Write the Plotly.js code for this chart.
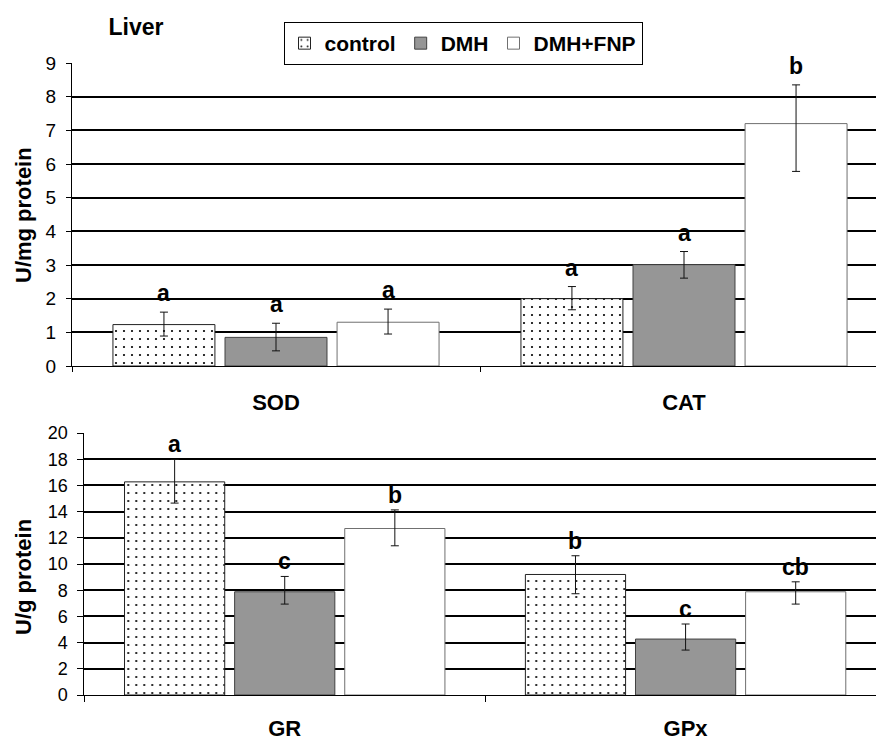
<!DOCTYPE html>
<html>
<head>
<meta charset="utf-8">
<script src="https://cdn.plot.ly/plotly-3.0.1.min.js"></script>
<style>html,body{margin:0;padding:0;background:#fff;}#chart{width:876px;height:740px;}</style>
</head>
<body>
<div id="chart"></div>
<script>
// ---- data ----
const groups = ['control', 'DMH', 'DMH+FNP'];
const categoriesTop = ['SOD', 'CAT'];
const categoriesBottom = ['GR', 'GPx'];

const topControl = [1.23, 2.00];
const topControlErrPlus = [0.37, 0.36];
const topControlErrMinus = [0.34, 0.33];
const topDMH = [0.85, 3.01];
const topDMHErrPlus = [0.42, 0.39];
const topDMHErrMinus = [0.40, 0.40];
const topFNP = [1.30, 7.20];
const topFNPErrPlus = [0.39, 1.15];
const topFNPErrMinus = [0.35, 1.42];

const bottomControl = [16.27, 9.20];
const bottomControlErrPlus = [1.71, 1.43];
const bottomControlErrMinus = [1.62, 1.47];
const bottomDMH = [7.88, 4.27];
const bottomDMHErrPlus = [1.17, 1.15];
const bottomDMHErrMinus = [0.94, 0.84];
const bottomFNP = [12.71, 7.88];
const bottomFNPErrPlus = [1.42, 0.76];
const bottomFNPErrMinus = [1.32, 0.94];

const lettersTopControl = ['a', 'a'];
const lettersTopDMH = ['a', 'a'];
const lettersTopFNP = ['a', 'b'];
const lettersBottomControl = ['a', 'b'];
const lettersBottomDMH = ['c', 'c'];
const lettersBottomFNP = ['b', 'cb'];

const yTitleTop = 'U/mg protein';
const yTitleBottom = 'U/g protein';
const chartTitle = 'Liver';

// ---- styles ----
const FONT = 'Liberation Sans, Arial, sans-serif';
const styles = [
  {color: 'white', pattern: {shape: '.', fgcolor: 'black', bgcolor: 'white', size: 8, solidity: 0.06}, line: {color: '#222', width: 1}},
  {color: '#969696', line: {color: '#404040', width: 1}},
  {color: 'white', line: {color: '#707070', width: 1}}
];
const bargap = 0.176;

function errObj(p, m) {
  return {type: 'data', symmetric: false, array: p, arrayminus: m, color: '#111', thickness: 1, width: 4};
}

const topSeries = [
  [topControl, topControlErrPlus, topControlErrMinus, lettersTopControl],
  [topDMH, topDMHErrPlus, topDMHErrMinus, lettersTopDMH],
  [topFNP, topFNPErrPlus, topFNPErrMinus, lettersTopFNP]
];
const bottomSeries = [
  [bottomControl, bottomControlErrPlus, bottomControlErrMinus, lettersBottomControl],
  [bottomDMH, bottomDMHErrPlus, bottomDMHErrMinus, lettersBottomDMH],
  [bottomFNP, bottomFNPErrPlus, bottomFNPErrMinus, lettersBottomFNP]
];

const traces = [];
const annotations = [];
const slot = (1 - bargap) / 3;

function addPanel(series, cats, xa, ya, showLegend, yshift) {
  series.forEach((s, si) => {
    traces.push({
      type: 'bar', name: groups[si], x: cats, y: s[0],
      xaxis: xa, yaxis: ya,
      marker: styles[si],
      error_y: errObj(s[1], s[2]),
      legendgroup: groups[si], showlegend: showLegend,
      hoverinfo: 'x+y+name'
    });
    s[3].forEach((lab, ci) => {
      annotations.push({
        xref: xa, yref: ya, x: ci + (si - 1) * slot, y: s[0][ci] + s[1][ci],
        text: lab, showarrow: false, yanchor: 'middle', yshift: yshift,
        font: {family: FONT, size: 23, color: 'black', weight: 'bold'}
      });
    });
  });
}
addPanel(topSeries, categoriesTop, 'x', 'y', true, 19);
addPanel(bottomSeries, categoriesBottom, 'x2', 'y2', false, 15);

annotations.push({
  xref: 'paper', yref: 'paper', x: 23 / 876, y: 1 - 215 / 740, text: yTitleTop,
  textangle: -90, showarrow: false, xanchor: 'center', yanchor: 'middle',
  font: {family: FONT, size: 22, color: 'black', weight: 'bold'}
});
annotations.push({
  xref: 'paper', yref: 'paper', x: 23 / 876, y: 1 - 577 / 740, text: yTitleBottom,
  textangle: -90, showarrow: false, xanchor: 'center', yanchor: 'middle',
  font: {family: FONT, size: 22, color: 'black', weight: 'bold'}
});

const xAxisBase = {
  type: 'category', tickson: 'boundaries', ticks: 'outside', ticklen: 5, tickcolor: 'black',
  showline: true, linecolor: 'black', linewidth: 1, showgrid: false, zeroline: false,
  tickfont: {family: FONT, size: 22, color: 'black', weight: 'bold'},
  ticklabelstandoff: 17, automargin: false, fixedrange: true
};
const yAxisBase = {
  ticks: 'outside', ticklen: 5, tickcolor: 'black', showline: true, linecolor: 'black', linewidth: 1,
  showgrid: true, gridcolor: 'black', gridwidth: 2, zeroline: false,
  tickfont: {family: FONT, size: 19, color: 'black'}, ticklabelstandoff: 6, automargin: false, fixedrange: true
};

const layout = {
  width: 876, height: 740,
  margin: {l: 0, r: 0, t: 0, b: 0},
  paper_bgcolor: 'white', plot_bgcolor: 'white',
  barmode: 'group', bargap: bargap, bargroupgap: 0.09,
  title: {text: chartTitle, x: 136 / 876, y: 1 - 27 / 740, xanchor: 'center', yanchor: 'middle',
          font: {family: FONT, size: 23, color: 'black', weight: 'bold'}},
  xaxis: Object.assign({}, xAxisBase, {domain: [72 / 876, 1], range: [-0.5, 1.4706], anchor: 'y'}),
  yaxis: Object.assign({}, yAxisBase, {domain: [1 - 366 / 740, 1 - 63 / 740], range: [0, 9], dtick: 1, anchor: 'x'}),
  xaxis2: Object.assign({}, xAxisBase, {domain: [84.3 / 876, 1], range: [-0.5, 1.475], anchor: 'y2', ticklabelstandoff: 14, ticklen: 6}),
  yaxis2: Object.assign({}, yAxisBase, {domain: [1 - 695 / 740, 1 - 433 / 740], range: [0, 20], dtick: 2, anchor: 'x2', ticklen: 6,
                                        tickfont: {family: FONT, size: 18, color: 'black'}}),
  legend: {
    orientation: 'h', x: 463 / 876, y: 1 - 22 / 740, xanchor: 'center', yanchor: 'top',
    bordercolor: 'black', borderwidth: 1, bgcolor: 'white',
    font: {family: FONT, size: 21, color: 'black', weight: 'bold'},
    itemwidth: 30, tracegroupgap: 0, traceorder: 'normal'
  },
  annotations: annotations,
  showlegend: true
};

Plotly.newPlot('chart', traces, layout, {displayModeBar: false, staticPlot: true});
</script>
</body>
</html>
